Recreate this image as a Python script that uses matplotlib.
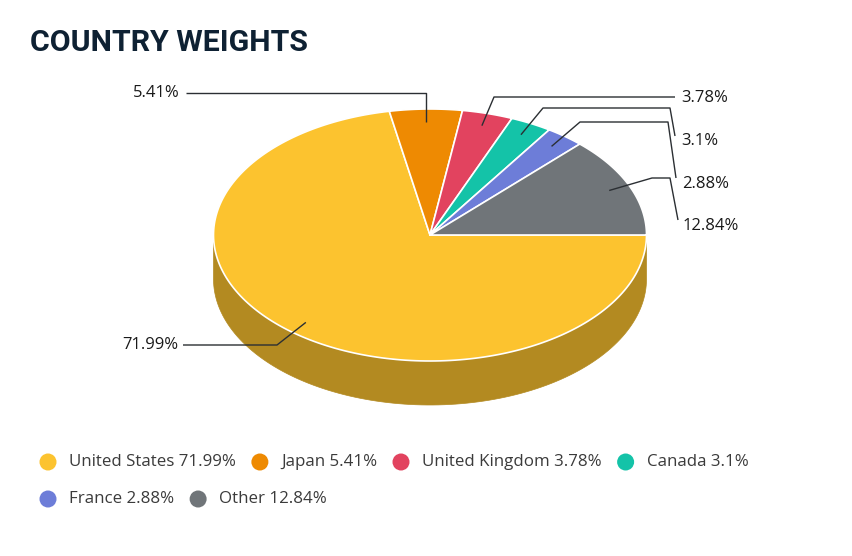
import numpy as np
import matplotlib.pyplot as plt
from matplotlib.patches import Polygon, Ellipse
from matplotlib.colors import to_rgb

countries = ["United States", "Japan", "United Kingdom", "Canada", "France", "Other"]
weights = [71.99, 5.41, 3.78, 3.1, 2.88, 12.84]
labels = ["71.99%", "5.41%", "3.78%", "3.1%", "2.88%", "12.84%"]
colors = ["#FCC32F", "#EE8A02", "#E2435F", "#14C3A8", "#6D7DD8", "#707579"]

# geometry of the 3d pie (pixel space)
cx, cy = 430, 235
rx, ry = 216.5, 126
depth = 44

# label layout: text position, alignment, connector bend points
label_layout = [
    dict(xy=(178, 345), ha="right", bends=[(277, 345), (183, 345)]),
    dict(xy=(180, 93), ha="right", bends=[(None, 93), (186, 93)]),
    dict(xy=(681, 98), ha="left", bends=[(494, 97), (675, 97)]),
    dict(xy=(681, 141), ha="left", bends=[(543, 108), (670, 108), (675, 136)]),
    dict(xy=(682, 184), ha="left", bends=[(580, 122), (668, 122), (676, 178)]),
    dict(xy=(683, 226), ha="left", bends=[(652, 178), (670, 178), (678, 220)]),
]

plt.rcParams['font.family'] = ['Open Sans', 'DejaVu Sans']

fig = plt.figure(figsize=(8.53, 5.56), dpi=100)
ax = fig.add_axes([0, 0, 1, 1])
ax.set_xlim(0, 853)
ax.set_ylim(556, 0)
ax.axis("off")


def ell(t, dy=0.0):
    t = np.radians(t)
    return np.column_stack([cx + rx * np.cos(t), cy - ry * np.sin(t) + dy])


def darker(c, f=0.71):
    r, g, b = to_rgb(c)
    return (r * f, g * f, b * f)


cum = np.concatenate([[0], np.cumsum(weights)])
starts = -cum[:-1] * 3.6
ends = -cum[1:] * 3.6

# side walls (front half only)
for s, e, c in zip(starts, ends, colors):
    lo, hi = min(s, e), max(s, e)
    for k in (-360, 0):
        a0, a1 = max(lo, -180 + k), min(hi, 0 + k)
        if a1 > a0:
            t = np.linspace(a0, a1, 120)
            pts = np.vstack([ell(t), ell(t[::-1], depth)])
            ax.add_patch(Polygon(pts, closed=True, fc=darker(c), ec=darker(c),
                                 lw=0.5, zorder=1))

# top faces
for s, e, c in zip(starts, ends, colors):
    t = np.linspace(s, e, 200)
    pts = np.vstack([[cx, cy], ell(t)])
    ax.add_patch(Polygon(pts, closed=True, fc=c, ec="white", lw=1.2,
                         joinstyle="round", zorder=2))

# data labels with connectors
for i, (s, e) in enumerate(zip(starts, ends)):
    mid = (s + e) / 2
    t = np.radians(mid)
    ax_, ay_ = cx + 0.9 * rx * np.cos(t), cy - 0.9 * ry * np.sin(t)
    lay = label_layout[i]
    path = [(ax_, ay_)] + [(ax_ if bx is None else bx, by) for bx, by in lay["bends"]]
    xs, ys = zip(*path)
    ax.plot(xs, ys, color="#2b2f33", lw=1, zorder=3, solid_capstyle="butt")
    ax.text(lay["xy"][0], lay["xy"][1], labels[i], ha=lay["ha"], va="center",
            fontsize=12, color="#1a1a1a", zorder=4)

# title
ax.text(30, 43, "COUNTRY WEIGHTS", fontsize=21.8, fontweight="bold",
        family=["Roboto", "DejaVu Sans"], color="#0E2133", va="center", ha="left")

# legend (flow layout)
fig.canvas.draw()
renderer = fig.canvas.get_renderer()
x, y = 48, 462
row_gap = 37
for name, w, c in zip(countries, weights, colors):
    txt = f"{name} {w}%"
    probe = ax.text(0, 0, txt, fontsize=12.2)
    width = probe.get_window_extent(renderer).width
    probe.remove()
    if x + 21 + width > 780:
        x = 48
        y += row_gap
    ax.add_patch(Ellipse((x, y), 17, 17, fc=c, ec="none", zorder=3))
    ax.text(x + 21, y, txt, fontsize=12.2, color="#3b3b3b", va="center", ha="left")
    x += 21 + width + 24

fig.savefig("out.png", dpi=100)
